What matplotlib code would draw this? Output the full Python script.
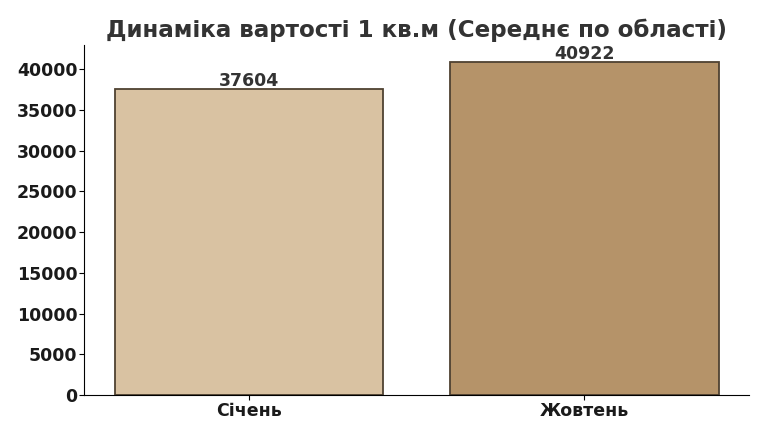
import matplotlib.pyplot as plt

months = ["Січень", "Жовтень"]
prices = [37604, 40922]
bar_colors = ["#D9C2A2", "#B59369"]

fig, ax = plt.subplots(figsize=(7.68, 4.36), dpi=100)

bars = ax.bar(months, prices, color=bar_colors, edgecolor="#4F4232", linewidth=1.3, width=0.8)
ax.bar_label(bars, fmt="%d", padding=-1, fontsize=12.5, fontweight="bold", color="#333333")

ax.set_ylim(0, max(prices) * 1.05)
ax.set_title("Динаміка вартості 1 кв.м (Середнє по області)", fontsize=16.6, fontweight="bold",
             color="#333333", pad=6)

ax.spines["right"].set_visible(False)
ax.spines["top"].set_visible(False)
ax.tick_params(axis="both", labelsize=12.5)
ax.tick_params(axis="x", pad=1.5)
ax.tick_params(axis="y", pad=1.5)
for lbl in ax.get_xticklabels() + ax.get_yticklabels():
    lbl.set_fontweight("bold")
    lbl.set_color("#1a1a1a")

plt.subplots_adjust(left=0.11, right=0.975, top=0.897, bottom=0.094)
plt.savefig("out.png", dpi=100)
